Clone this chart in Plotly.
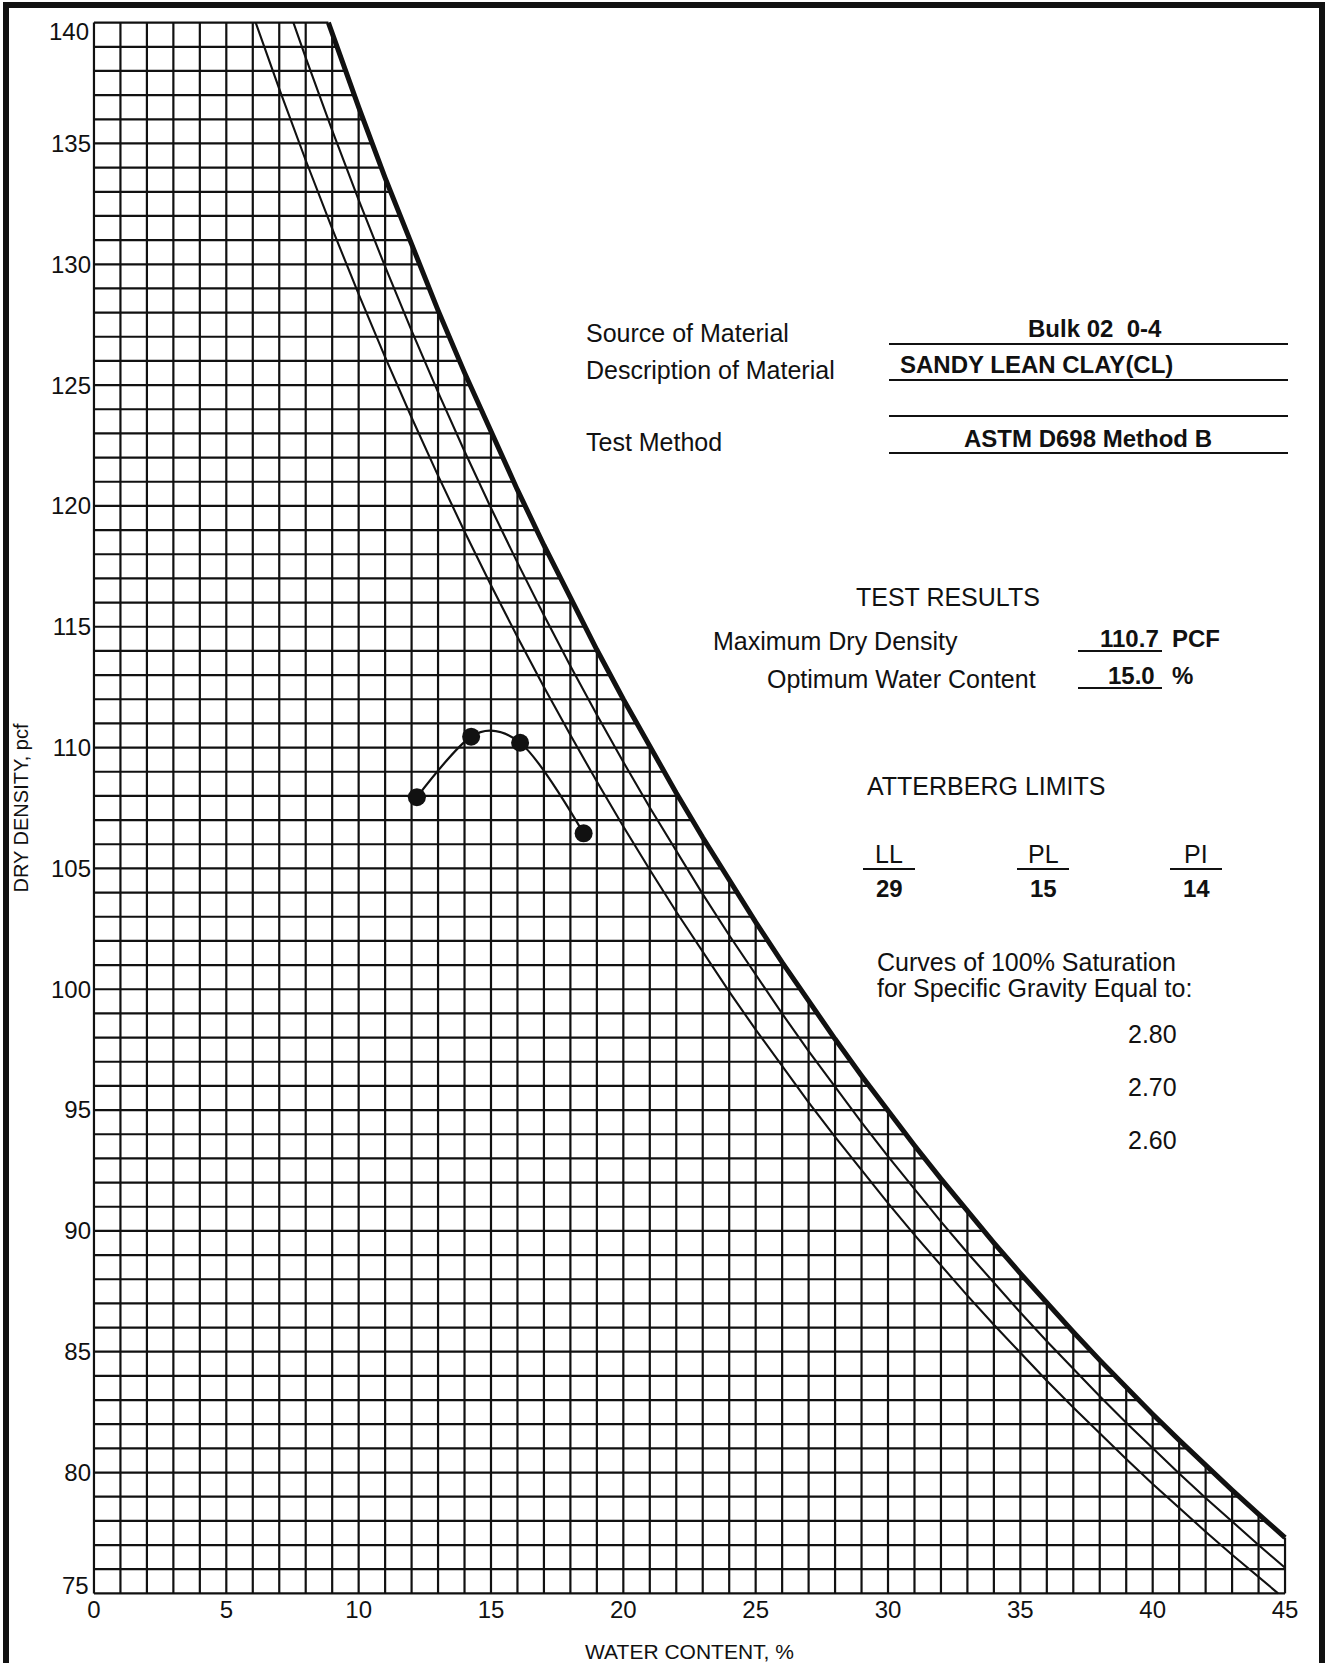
import math
import plotly.graph_objects as go

# ---- Proctor compaction test (ASTM D698 Method B) ----
water_content = [12.2, 14.25, 16.1, 18.5]        # %
dry_density = [107.95, 110.45, 110.2, 106.45]    # pcf

max_dry_density = 110.7    # pcf
optimum_water = 15.0       # %

# Atterberg limits
atterberg_names = ["LL", "PL", "PI"]
atterberg_values = [29, 15, 14]

# Zero-air-voids (100 % saturation) curves
specific_gravity = [2.80, 2.70, 2.60]
gamma_water = 62.4  # pcf

x_ticks = [0, 5, 10, 15, 20, 25, 30, 35, 40, 45]
y_ticks = [75, 80, 85, 90, 95, 100, 105, 110, 115, 120, 125, 130, 135, 140]

X_MIN, X_MAX = 0, 45
Y_MIN, Y_MAX = 75, 140

FONT = "Liberation Sans, Arial, Helvetica, sans-serif"
INK = "#111111"


def zav_density(w, gs):
    """Dry density at 100 % saturation for water content w (%)."""
    return gs * gamma_water / (1.0 + w / 100.0 * gs)


def zav_water(gd, gs):
    """Water content (%) at which the saturation curve reaches density gd."""
    return (gs * gamma_water / gd - 1.0) / gs * 100.0


def zav_curve(gs):
    xs, ys = [], []
    w0 = max(X_MIN, zav_water(Y_MAX, gs))
    ws = [w0] + [w for w in range(math.floor(w0) + 1, X_MAX + 1)]
    for w in ws:
        g = zav_density(w, gs)
        if g < Y_MIN:
            xs.append(zav_water(Y_MIN, gs))
            ys.append(Y_MIN)
            break
        xs.append(w)
        ys.append(g)
    return xs, ys


fig = go.Figure()

# grid, bounded by the Gs = 2.80 saturation curve
gs_top = max(specific_gravity)
gx, gy = [], []
for i in range(X_MIN, X_MAX + 1):
    gx += [i, i, None]
    gy += [Y_MIN, min(Y_MAX, zav_density(i, gs_top)), None]
for j in range(Y_MIN, Y_MAX + 1):
    gx += [X_MIN, min(X_MAX, zav_water(j, gs_top)), None]
    gy += [j, j, None]
fig.add_trace(go.Scatter(x=gx, y=gy, mode="lines",
                         line=dict(color=INK, width=2.2),
                         hoverinfo="skip", showlegend=False))

# saturation curves
for gs in specific_gravity:
    cx, cy = zav_curve(gs)
    fig.add_trace(go.Scatter(x=cx, y=cy, mode="lines",
                             line=dict(color=INK, width=5 if gs == gs_top else 2.1),
                             name=f"Gs = {gs:.2f}", showlegend=False))

# compaction curve through the test points and the reported optimum
curve_pts = sorted(zip(water_content + [optimum_water], dry_density + [max_dry_density]))
fig.add_trace(go.Scatter(x=[p[0] for p in curve_pts], y=[p[1] for p in curve_pts],
                         mode="lines", line=dict(color=INK, width=2.2, shape="spline", smoothing=1.0),
                         hoverinfo="skip", showlegend=False))
fig.add_trace(go.Scatter(x=water_content, y=dry_density, mode="markers",
                         marker=dict(color=INK, size=18), showlegend=False, cliponaxis=False))

# ---- page layout in pixels ----
W, H = 1331, 1663
L, R, T, B = 90, 1289, 19, 1597


def px(x):
    return (x - L) / (R - L)


def py(y):
    return (B - y) / (B - T)


annotations = []
shapes = []


def text(s, x, y, size=25, bold=False, anchor="left"):
    annotations.append(dict(
        text=f"<b>{s}</b>" if bold else s, x=px(x), y=py(y), xref="paper", yref="paper",
        xanchor=anchor, yanchor="middle", showarrow=False,
        font=dict(family=FONT, size=size, color=INK)))


def rule(x0, x1, y, width=2):
    shapes.append(dict(type="line", xref="paper", yref="paper",
                       x0=px(x0), x1=px(x1), y0=py(y), y1=py(y),
                       line=dict(color=INK, width=width)))


# end labels of the density axis sit just inside the grid corners
inner_ticks = y_ticks[1:-1]
for val, shift in [(y_ticks[0], 8), (y_ticks[-1], -9)]:
    annotations.append(dict(
        text=str(val), x=px(91), y=val, xref="paper", yref="y",
        xanchor="right", yanchor="middle", yshift=shift, showarrow=False,
        font=dict(family=FONT, size=24, color=INK)))

# material block
text("Source of Material", 584, 333)
text("Description of Material", 584, 370)
text("Test Method", 584, 442)
text("Bulk 02  0-4", 1095, 329, size=24, bold=True, anchor="center")
text("SANDY LEAN CLAY(CL)", 1036, 365, size=24, bold=True, anchor="center")
text("ASTM D698 Method B", 1088, 438, size=24, bold=True, anchor="center")
for yy in [344, 380, 416, 453]:
    rule(889, 1288, yy)

# test results
text("TEST RESULTS", 948, 597, anchor="center")
text("Maximum Dry Density", 711, 641)
text("Optimum Water Content", 765, 679)
text(f"{max_dry_density:.1f}", 1161, 638, size=24, bold=True, anchor="right")
text("PCF", 1170, 638, size=24, bold=True)
text(f"{optimum_water:.1f}", 1157, 675, size=24, bold=True, anchor="right")
text("%", 1170, 675, size=24, bold=True)
rule(1078, 1162, 651)
rule(1078, 1162, 688)

# Atterberg limits
text("ATTERBERG LIMITS", 986, 786, anchor="center")
for name, val, cx in zip(atterberg_names, atterberg_values, [889, 1043, 1196]):
    text(name, cx, 854, anchor="center")
    text(str(val), cx, 888, size=24, bold=True, anchor="center")
    rule(cx - 26, cx + 26, 869)

# saturation curve legend
text("Curves of 100% Saturation", 875, 962)
text("for Specific Gravity Equal to:", 875, 988)
for gs, yy in zip(specific_gravity, [1034, 1087, 1140]):
    text(f"{gs:.2f}", 1152, yy, anchor="center")

# sheet frame
fx0, fx1, fy0, fy1 = 6, 1322, 5, 1720
shapes.append(dict(type="path", xref="paper", yref="paper",
                   path=f"M {px(fx0)},{py(fy1)} L {px(fx0)},{py(fy0)} L {px(fx1)},{py(fy0)} L {px(fx1)},{py(fy1)}",
                   line=dict(color=INK, width=6)))

fig.update_layout(
    width=W, height=H,
    margin=dict(l=L, r=W - R, t=T, b=H - B, autoexpand=False),
    paper_bgcolor="white", plot_bgcolor="white",
    font=dict(family=FONT, color=INK),
    annotations=annotations, shapes=shapes,
    showlegend=False,
    xaxis=dict(range=[X_MIN - 0.15, X_MAX + 0.15], tickvals=x_ticks, ticks="",
               showgrid=False, zeroline=False, showline=False, automargin=False,
               ticklabelstandoff=-4,
               tickfont=dict(family=FONT, size=24, color=INK),
               title=dict(text="WATER CONTENT, %", standoff=32,
                          font=dict(family=FONT, size=21, color=INK))),
    yaxis=dict(range=[Y_MIN - 0.15, Y_MAX + 0.15], tickvals=inner_ticks, ticks="",
               showgrid=False, zeroline=False, showline=False, automargin=False,
               ticklabelstandoff=-2,
               tickfont=dict(family=FONT, size=24, color=INK),
               title=dict(text="DRY DENSITY, pcf", standoff=16,
                          font=dict(family=FONT, size=20, color=INK))),
)

fig.write_html("out.html")
